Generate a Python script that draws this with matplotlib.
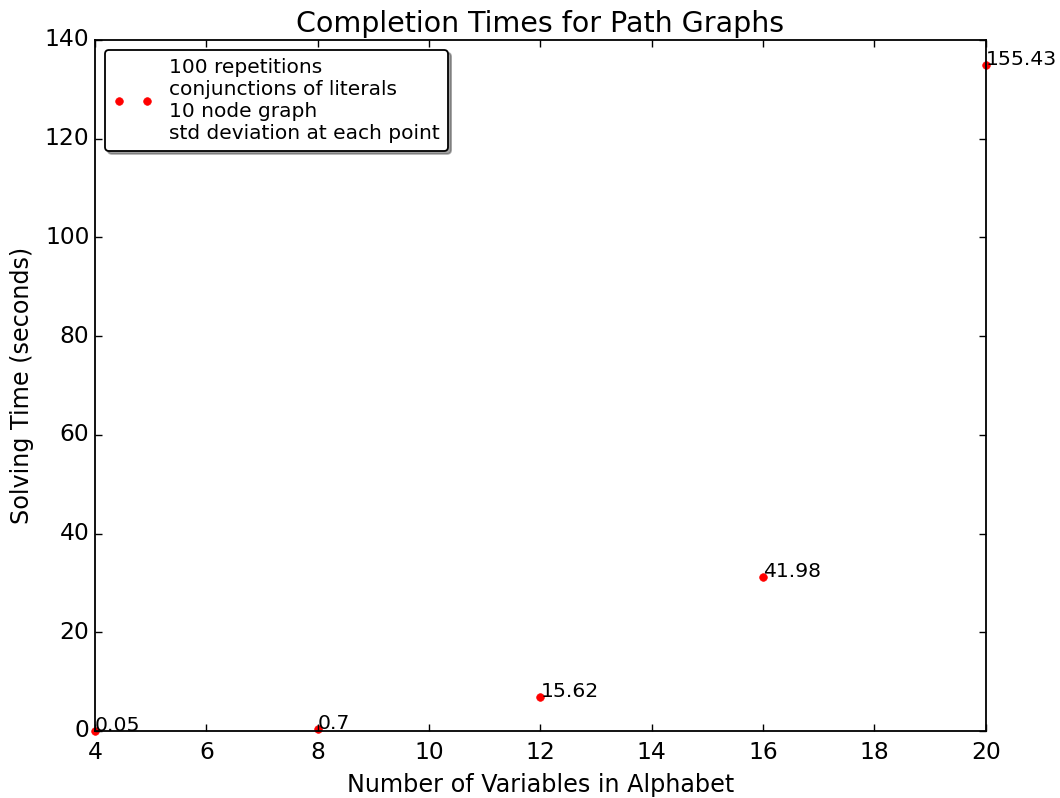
import matplotlib
matplotlib.use("Agg")
import matplotlib.pyplot as plt

plt.style.use('classic')
plt.rcParams['axes.linewidth'] = 1.3
plt.rcParams['xtick.major.size'] = 5.3
plt.rcParams['ytick.major.size'] = 5.3
plt.rcParams['xtick.major.width'] = 1.0
plt.rcParams['ytick.major.width'] = 1.0
plt.rcParams['xtick.major.pad'] = 7
plt.rcParams['patch.linewidth'] = 1.3

# mean solving time per alphabet size, and std deviation printed next to each point
num_vars = [4, 8, 12, 16, 20]
mean_times = [0.02, 0.4, 6.9, 31.2, 135.0]
std_devs = [0.05, 0.7, 15.62, 41.98, 155.43]

legend_text = ("100 repetitions\nconjunctions of literals\n"
               "10 node graph\nstd deviation at each point")

fig = plt.figure(figsize=(10.6, 7.98), dpi=100)
fig.subplots_adjust(left=0.0896, right=0.930, top=0.950, bottom=0.084)
ax = fig.add_subplot(111)

ax.plot(num_vars, mean_times, 'r.', markersize=11, label=legend_text, clip_on=False)
for x, y, s in zip(num_vars, mean_times, std_devs):
    ax.text(x, y, str(s), fontsize=14.7)

ax.set_xlim(4, 20)
ax.set_ylim(0, 140)
ax.set_title("Completion Times for Path Graphs", fontsize=20.5, pad=6)
ax.set_xlabel("Number of Variables in Alphabet", fontsize=17.2, labelpad=7)
ax.set_ylabel("Solving Time (seconds)", fontsize=17.2, labelpad=8)
ax.tick_params(labelsize=16.8)

ax.legend(loc='upper left', numpoints=2, fancybox=True, shadow=True, fontsize=14.5)

fig.savefig("out.png", dpi=100)
